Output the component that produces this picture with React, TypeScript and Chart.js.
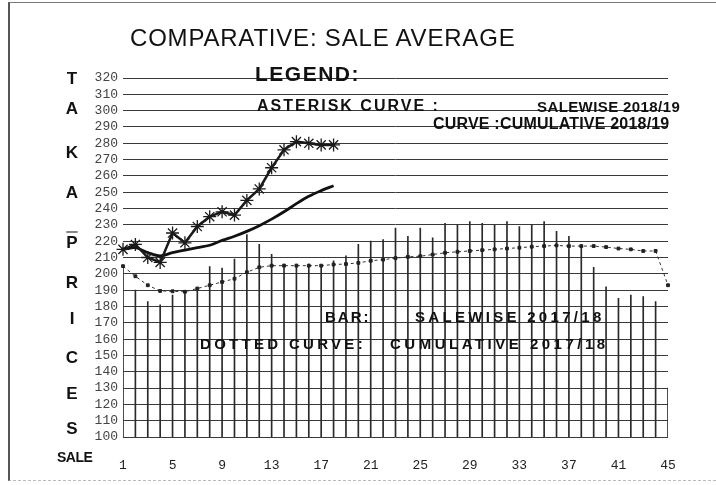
import React, { useEffect, useRef } from "react";
import { Chart, registerables } from "chart.js";

Chart.register(...registerables);

// ---------- DATA ----------
const sales = [
  "1", "2", "3", "4", "5", "6", "7", "8", "9", "10",
  "11", "12", "13", "14", "15", "16", "17", "18", "19", "20",
  "21", "22", "23", "24", "25", "26", "27", "28", "29", "30",
  "31", "32", "33", "34", "35", "36", "37", "38", "39", "40",
  "41", "42", "43", "44", "45",
];
const xTickLabels = ["1", "5", "9", "13", "17", "21", "25", "29", "33", "37", "41", "45"];
const yMin = 100;
const yMax = 320;
const yStep = 10;

// Asterisk curve: salewise 2018/19
const salewise1819 = [
  215, 218, 210, 207, 225, 219, 229, 235, 238, 236,
  245, 252, 265, 276, 281, 280, 279, 279,
];
// Solid curve: cumulative 2018/19
const cumulative1819 = [
  215, 216, 213, 211, 213, 214.5, 216, 217.5, 220.5, 223,
  226, 229.5, 233.5, 238, 243, 247.5, 251, 254,
];
// Bars: salewise 2017/18
const salewise1718 = [
  204, 190, 183, 181, 187, 189, 191, 204.5, 203.5, 209,
  224, 218, 212, 206, 206, 206, 204, 208, 211, 218,
  220, 221, 228, 223, 228, 222, 231, 230, 232, 231,
  230, 232, 229, 230, 232, 226, 223, 217, 204, 192,
  185, 187, 186, 183, 130,
];
// Dotted curve: cumulative 2017/18
const cumulative1718 = [
  204.7, 198.5, 193, 189.5, 189.3, 189, 191, 193, 195, 197,
  201, 204, 205, 205, 205, 205, 205, 205.7, 206, 206.7,
  208, 208.7, 209.6, 210.4, 210.8, 211.8, 212.9, 213.5, 214, 214.5,
  215, 215.5, 216, 216.6, 217, 217.4, 217, 217, 217, 216.4,
  215.5, 215, 214, 214, 193,
];

const titleText = "COMPARATIVE: SALE AVERAGE";
const axisLetters = ["T", "A", "K", "A", "P", "R", "I", "C", "E", "S"];
const xAxisWord = "SALE";

// ---------- LAYOUT (positions, not data) ----------
const letterY = [78, 108, 152, 192, 242, 282, 318, 357, 393, 428];

type LabelProps = {
  x: number;
  y: number;
  size: number;
  bold?: boolean;
  spacing?: number;
  children: React.ReactNode;
  center?: boolean;
};

function Label({ x, y, size, bold, spacing, children, center }: LabelProps) {
  return (
    <div
      style={{
        position: "absolute",
        left: x,
        top: y,
        transform: center ? "translate(-50%, -50%)" : "translateY(-50%)",
        fontFamily: "'Liberation Sans', Arial, sans-serif",
        fontSize: size,
        fontWeight: bold ? 700 : 400,
        letterSpacing: spacing ?? 0,
        lineHeight: 1,
        whiteSpace: "nowrap",
        color: "#111",
      }}
    >
      {children}
    </div>
  );
}

export default function App() {
  const canvasRef = useRef<HTMLCanvasElement | null>(null);

  useEffect(() => {
    if (!canvasRef.current) return;
    const pad = (arr: number[]) => sales.map((_, i) => (i < arr.length ? arr[i] : null));
    const chart = new Chart(canvasRef.current, {
      type: "bar",
      data: {
        labels: sales,
        datasets: [
          {
            type: "line",
            label: "ASTERISK CURVE: SALEWISE 2018/19",
            data: pad(salewise1819),
            borderColor: "#1a1a1a",
            borderWidth: 2.5,
            pointStyle: "star",
            pointRadius: 6.5,
            pointBorderWidth: 1.3,
            pointBorderColor: "#1a1a1a",
            pointBackgroundColor: "#1a1a1a",
            tension: 0,
            spanGaps: false,
            order: 1,
          } as any,
          {
            type: "line",
            label: "CURVE: CUMULATIVE 2018/19",
            data: pad(cumulative1819),
            borderColor: "#111",
            borderWidth: 2.8,
            pointRadius: 0,
            tension: 0.35,
            order: 2,
          } as any,
          {
            type: "line",
            label: "DOTTED CURVE: CUMULATIVE 2017/18",
            data: cumulative1718,
            borderColor: "#333",
            borderWidth: 1,
            borderDash: [3, 3],
            pointStyle: "rect",
            pointRadius: 2,
            pointBackgroundColor: "#222",
            pointBorderColor: "#222",
            tension: 0,
            order: 3,
          } as any,
          {
            type: "bar",
            label: "BAR: SALEWISE 2017/18",
            data: salewise1718,
            backgroundColor: "#2a2a2a",
            barThickness: 1,
            order: 4,
          } as any,
        ],
      },
      options: {
        animation: false,
        responsive: true,
        maintainAspectRatio: false,
        layout: { padding: { left: 0, right: 48, top: 78, bottom: 0 } },
        plugins: {
          legend: { display: false },
          title: { display: false },
          tooltip: { enabled: false },
        },
        scales: {
          x: {
            type: "category",
            offset: false,
            grid: { display: false },
            border: { display: false },
            ticks: {
              autoSkip: false,
              maxRotation: 0,
              minRotation: 0,
              padding: 13,
              color: "#222",
              font: { family: "'Liberation Mono', monospace", size: 13 },
              callback: (_v: any, i: number) =>
                xTickLabels.includes(sales[i]) ? sales[i] : "",
            },
            afterFit: (s: any) => {
              s.height = 48;
            },
          },
          y: {
            min: yMin,
            max: yMax,
            ticks: {
              stepSize: yStep,
              autoSkip: false,
              padding: 5,
              color: "#444",
              font: { family: "'Liberation Mono', monospace", size: 13 },
            },
            grid: { color: "#3a3a3a", lineWidth: 1, drawTicks: false },
            border: { display: false },
            afterFit: (s: any) => {
              s.width = 123;
            },
          },
        },
      } as any,
    });
    return () => chart.destroy();
  }, []);

  return (
    <div
      style={{
        position: "fixed",
        left: 0,
        top: 0,
        width: 716,
        height: 485,
        background: "#fff",
        overflow: "hidden",
      }}
    >
      <div
        style={{
          position: "absolute",
          left: 8,
          top: 2,
          width: 708,
          height: 479,
          borderLeft: "2px solid #555",
          borderTop: "1px solid #777",
          borderBottom: "1px dashed #bbb",
          boxSizing: "border-box",
        }}
      />
      <div style={{ position: "absolute", left: 0, top: 0, width: 716, height: 485 }}>
        <canvas ref={canvasRef} />
      </div>

      <Label x={130} y={38} size={24} spacing={0.8}>
        {titleText}
      </Label>
      <Label x={255} y={73} size={21} bold spacing={1.5}>
        LEGEND:
      </Label>
      <Label x={257} y={106} size={16} bold spacing={2}>
        ASTERISK CURVE :
      </Label>
      <Label x={537} y={106} size={15} bold spacing={0.4}>
        SALEWISE 2018/19
      </Label>
      <Label x={433} y={124} size={16} bold spacing={0.2}>
        CURVE :CUMULATIVE 2018/19
      </Label>
      <Label x={325} y={316} size={15} bold spacing={2}>
        BAR:
      </Label>
      <Label x={415} y={316} size={15} bold spacing={3.3}>
        SALEWISE 2017/18
      </Label>
      <Label x={200} y={343} size={15} bold spacing={3.3}>
        DOTTED CURVE:
      </Label>
      <Label x={390} y={343} size={15} bold spacing={3.5}>
        CUMULATIVE 2017/18
      </Label>

      {axisLetters.map((l, i) => (
        <Label key={i} x={72} y={letterY[i]} size={17} bold center>
          {l === "P" && i === 4 ? (
            <span style={{ textDecoration: "overline" }}>{l}</span>
          ) : (
            l
          )}
        </Label>
      ))}

      <Label x={57} y={457} size={14} bold spacing={-0.5}>
        {xAxisWord}
      </Label>
    </div>
  );
}
